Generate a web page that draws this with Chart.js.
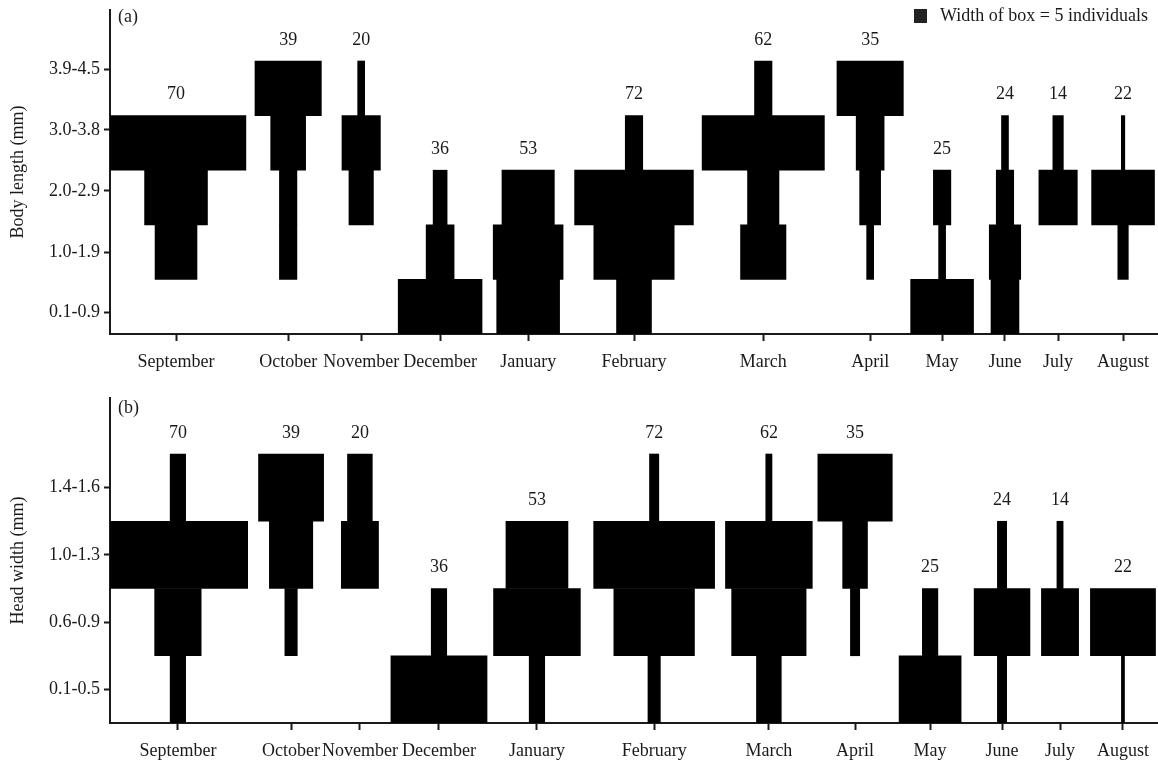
<!DOCTYPE html>
<html>
<head>
<meta charset="utf-8">
<title>Monthly size-class kite diagrams</title>
<script src="https://cdn.jsdelivr.net/npm/chart.js@4.4.1/dist/chart.umd.min.js"></script>
<style>
  html, body { margin: 0; padding: 0; background: #fff; }
  #wrap { position: relative; width: 1158px; height: 763px; }
  canvas { position: absolute; left: 0; }
  #panelA { top: 0; }
  #panelB { top: 385px; }
</style>
</head>
<body>
<div id="wrap">
  <canvas id="panelA" width="1158" height="380"></canvas>
  <canvas id="panelB" width="1158" height="378"></canvas>
</div>
<script>
// ---- data -------------------------------------------------------------
const months = ['September', 'October', 'November', 'December', 'January', 'February',
                'March', 'April', 'May', 'June', 'July', 'August'];

// (a) body length classes, smallest first; counts per month (Sep..Aug)
const bodyLengthClasses = ['0.1-0.9', '1.0-1.9', '2.0-2.9', '3.0-3.8', '3.9-4.5'];
const bl_0_1_0_9 = [0, 0, 0, 24, 18, 10, 0, 0, 18, 8, 0, 0];
const bl_1_0_1_9 = [12, 5, 0, 8, 20, 23, 13, 2, 2, 9, 0, 3];
const bl_2_0_2_9 = [18, 5, 7, 4, 15, 34, 9, 6, 5, 5, 11, 18];
const bl_3_0_3_8 = [40, 10, 11, 0, 0, 5, 35, 8, 0, 2, 3, 1];
const bl_3_9_4_5 = [0, 19, 2, 0, 0, 0, 5, 19, 0, 0, 0, 0];

// (b) head width classes, smallest first; counts per month (Sep..Aug)
const headWidthClasses = ['0.1-0.5', '0.6-0.9', '1.0-1.3', '1.4-1.6'];
const hw_0_1_0_5 = [5, 0, 0, 31, 5, 4, 8, 0, 20, 3, 0, 1];
const hw_0_6_0_9 = [15, 4, 0, 5, 28, 26, 24, 3, 5, 18, 12, 21];
const hw_1_0_1_3 = [45, 14, 12, 0, 20, 39, 28, 8, 0, 3, 2, 0];
const hw_1_4_1_6 = [5, 21, 8, 0, 0, 3, 2, 24, 0, 0, 0, 0];

// ---- layout -----------------------------------------------------------
// x axes are measured in individuals; each kite is centred on its month position
const monthPosA = [18.9, 51.0, 71.9, 94.5, 119.7, 150.0, 187.0, 217.6, 238.2, 256.2, 271.4, 290.0];
const monthPosB = [21.9, 58.4, 80.6, 106.1, 137.7, 175.5, 212.5, 240.3, 264.5, 287.7, 306.4, 326.7];
const xSpanA = 300;
const xSpanB = 338;
const bodyTickPos = [-0.1, 1.0, 2.12, 3.24, 4.35];
const headTickPos = [0, 1, 2, 3];

const INK = '#1a1a1a';
const FONT = "'Liberation Serif', 'Times New Roman', serif";
Chart.defaults.font.family = FONT;
Chart.defaults.font.size = 18;
Chart.defaults.color = INK;

// Count above each kite, panel tag and the key
const kiteLabels = {
  id: 'kiteLabels',
  afterDatasetsDraw(chart, args, o) {
    const { ctx, chartArea, scales: { x, y } } = chart;
    ctx.save();
    ctx.font = '18px ' + FONT;
    ctx.fillStyle = INK;
    ctx.textAlign = 'center';
    ctx.textBaseline = 'middle';
    o.totals.forEach((t, m) => {
      let top = -1;
      o.counts.forEach((row, k) => { if (row[m] > 0) top = k; });
      ctx.fillText(String(t), x.getPixelForValue(o.pos[m]), y.getPixelForValue(top + 0.5) - 21);
    });
    ctx.textAlign = 'left';
    ctx.fillText(o.tag, chartArea.left + 8, chartArea.top + o.tagDy);
    if (o.key) {
      const kx = chartArea.right - 244;
      ctx.fillStyle = '#222';
      ctx.fillRect(kx, 9, 13, 14);
      ctx.fillStyle = INK;
      ctx.fillText(o.key, kx + 26, 16);
    }
    ctx.restore();
  }
};

function axisStyle(tickLength) {
  return {
    offset: false,
    grid: { display: true, offset: false, drawOnChartArea: false, drawTicks: true,
            tickLength: tickLength, tickWidth: 2, tickColor: INK },
    border: { display: true, color: INK, width: 2 }
  };
}

function kitePanel(id, p) {
  const totals = months.map((_, m) => p.counts.reduce((s, row) => s + row[m], 0));
  const datasets = months.map((mon, m) => ({
    label: mon,
    data: p.classes
      .map((_, k) => p.counts[k][m] > 0
        ? { y: k, x: [p.pos[m] - p.counts[k][m] / 2, p.pos[m] + p.counts[k][m] / 2] }
        : null)
      .filter(Boolean),
    backgroundColor: '#000',
    borderWidth: 0,
    barPercentage: 1,
    categoryPercentage: 1,
    grouped: false
  }));

  return new Chart(document.getElementById(id), {
    type: 'bar',
    data: { datasets },
    plugins: [kiteLabels],
    options: {
      indexAxis: 'y',
      responsive: false,
      animation: false,
      events: [],
      layout: { padding: { top: p.padTop, left: 0, right: 0, bottom: 0 } },
      plugins: {
        legend: { display: false },
        tooltip: { enabled: false },
        kiteLabels: { totals, counts: p.counts, pos: p.pos, tag: p.tag, tagDy: p.tagDy, key: p.key }
      },
      scales: {
        x: {
          type: 'linear', min: 0, max: p.xSpan,
          afterBuildTicks: s => { s.ticks = p.pos.map(v => ({ value: v })); },
          afterFit: s => { s.height = p.xAxisH; s.paddingLeft = 0; s.paddingRight = 0; },
          ticks: { autoSkip: false, maxRotation: 0, minRotation: 0, padding: 10,
                   callback: (v, i) => months[i] },
          ...axisStyle(7)
        },
        y: {
          type: 'linear', min: -0.5, max: p.yMax,
          afterBuildTicks: s => { s.ticks = p.yTicks.map(v => ({ value: v })); },
          afterFit: s => { s.width = 110; s.paddingTop = 0; s.paddingBottom = 0; },
          ticks: { padding: 4, callback: (v, i) => p.classes[i] },
          title: { display: true, text: p.title, padding: { top: 7, bottom: 0 } },
          ...axisStyle(6)
        }
      }
    }
  });
}

kitePanel('panelA', {
  classes: bodyLengthClasses,
  counts: [bl_0_1_0_9, bl_1_0_1_9, bl_2_0_2_9, bl_3_0_3_8, bl_3_9_4_5],
  pos: monthPosA, xSpan: xSpanA, yMax: 5.434, yTicks: bodyTickPos,
  title: 'Body length (mm)', tag: '(a)', tagDy: 7,
  key: 'Width of box = 5 individuals',
  padTop: 10, xAxisH: 46
});

kitePanel('panelB', {
  classes: headWidthClasses,
  counts: [hw_0_1_0_5, hw_0_6_0_9, hw_1_0_1_3, hw_1_4_1_6],
  pos: monthPosB, xSpan: xSpanB, yMax: 4.333, yTicks: headTickPos,
  title: 'Head width (mm)', tag: '(b)', tagDy: 10,
  key: null,
  padTop: 13, xAxisH: 40
});
</script>
</body>
</html>
